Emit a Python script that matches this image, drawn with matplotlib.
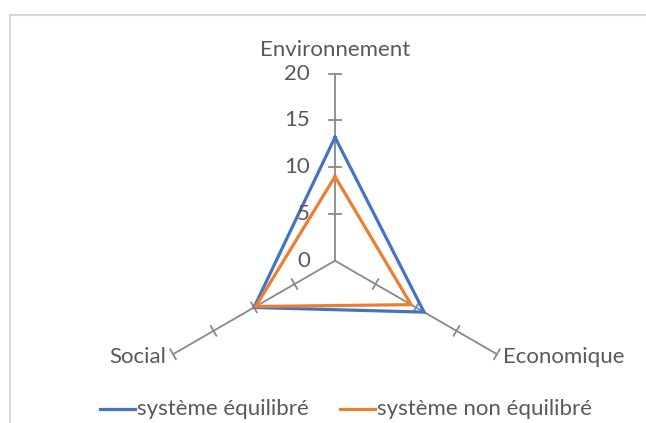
import numpy as np
import matplotlib
matplotlib.use("Agg")
import matplotlib.pyplot as plt

plt.rcParams['font.family'] = ['Lato', 'DejaVu Sans']

categories = ['Environnement', 'Economique', 'Social']
equilibre = [13.2, 11.0, 10.0]
non_equilibre = [9.0, 9.4, 9.8]
series_names = ['système équilibré', 'système non équilibré']
ticks = [0, 5, 10, 15, 20]

blue = '#4472C4'
orange = '#ED7D31'
grey = '#898989'
txt = '#595959'
fs = 16

W, H = 646, 423
cx, cy = 335, 260.7       # centre in pixels
scale = 9.35              # pixels per unit

fig = plt.figure(figsize=(W / 100, H / 100), dpi=100)
ax = fig.add_axes([0, 0, 1, 1])
ax.set_xlim(-cx / scale, (W - cx) / scale)
ax.set_ylim(-(H - cy) / scale, cy / scale)
ax.set_aspect('equal')
ax.axis('off')

# frame of the chart area (only top and left visible)
fig.add_artist(plt.Line2D([10 / W, 10 / W], [0, 1 - 15 / H], color='#d9d9d9', lw=1.5))
fig.add_artist(plt.Line2D([10 / W, 1], [1 - 15 / H, 1 - 15 / H], color='#d9d9d9', lw=1.5))

angles = np.deg2rad([90, -30, 210])
rmax = ticks[-1]

# axes with tick marks
for a in angles:
    ux, uy = np.cos(a), np.sin(a)
    ax.plot([0, rmax * ux], [0, rmax * uy], color=grey, lw=1.3, zorder=1)
    px, py = -uy, ux
    for t in ticks[1:]:
        ax.plot([t * ux - 0.6 * px, t * ux + 0.6 * px],
                [t * uy - 0.6 * py, t * uy + 0.6 * py], color=grey, lw=1.3, zorder=1)

# tick labels on the top axis
for t in ticks:
    ax.text(-2.7, t, str(t), ha='right', va='center', fontsize=fs, color=txt)

# category labels
ax.text(0, rmax + 2.5, categories[0], ha='center', va='center', fontsize=fs, color=txt)
ax.text(rmax * np.cos(angles[1]) + 0.65, rmax * np.sin(angles[1]) - 0.3, categories[1],
        ha='left', va='center', fontsize=fs, color=txt)
ax.text(rmax * np.cos(angles[2]) - 0.7, rmax * np.sin(angles[2]) - 0.3, categories[2],
        ha='right', va='center', fontsize=fs, color=txt)

# series
for vals, col in [(equilibre, blue), (non_equilibre, orange)]:
    v = np.array(vals + vals[:1])
    a = np.concatenate([angles, angles[:1]])
    ax.plot(v * np.cos(a), v * np.sin(a), color=col, lw=2.3,
            solid_joinstyle='miter', zorder=2)

# legend
leg_y = -(409 - cy) / scale
for name, col, x0 in [(series_names[0], blue, 100), (series_names[1], orange, 340)]:
    xs = (x0 - cx) / scale
    ax.plot([xs, xs + 35 / scale], [leg_y, leg_y], color=col, lw=2.3)
    ax.text(xs + 37 / scale, leg_y, name, ha='left', va='center', fontsize=fs, color=txt)

fig.savefig('out.png', dpi=100, facecolor='white')
